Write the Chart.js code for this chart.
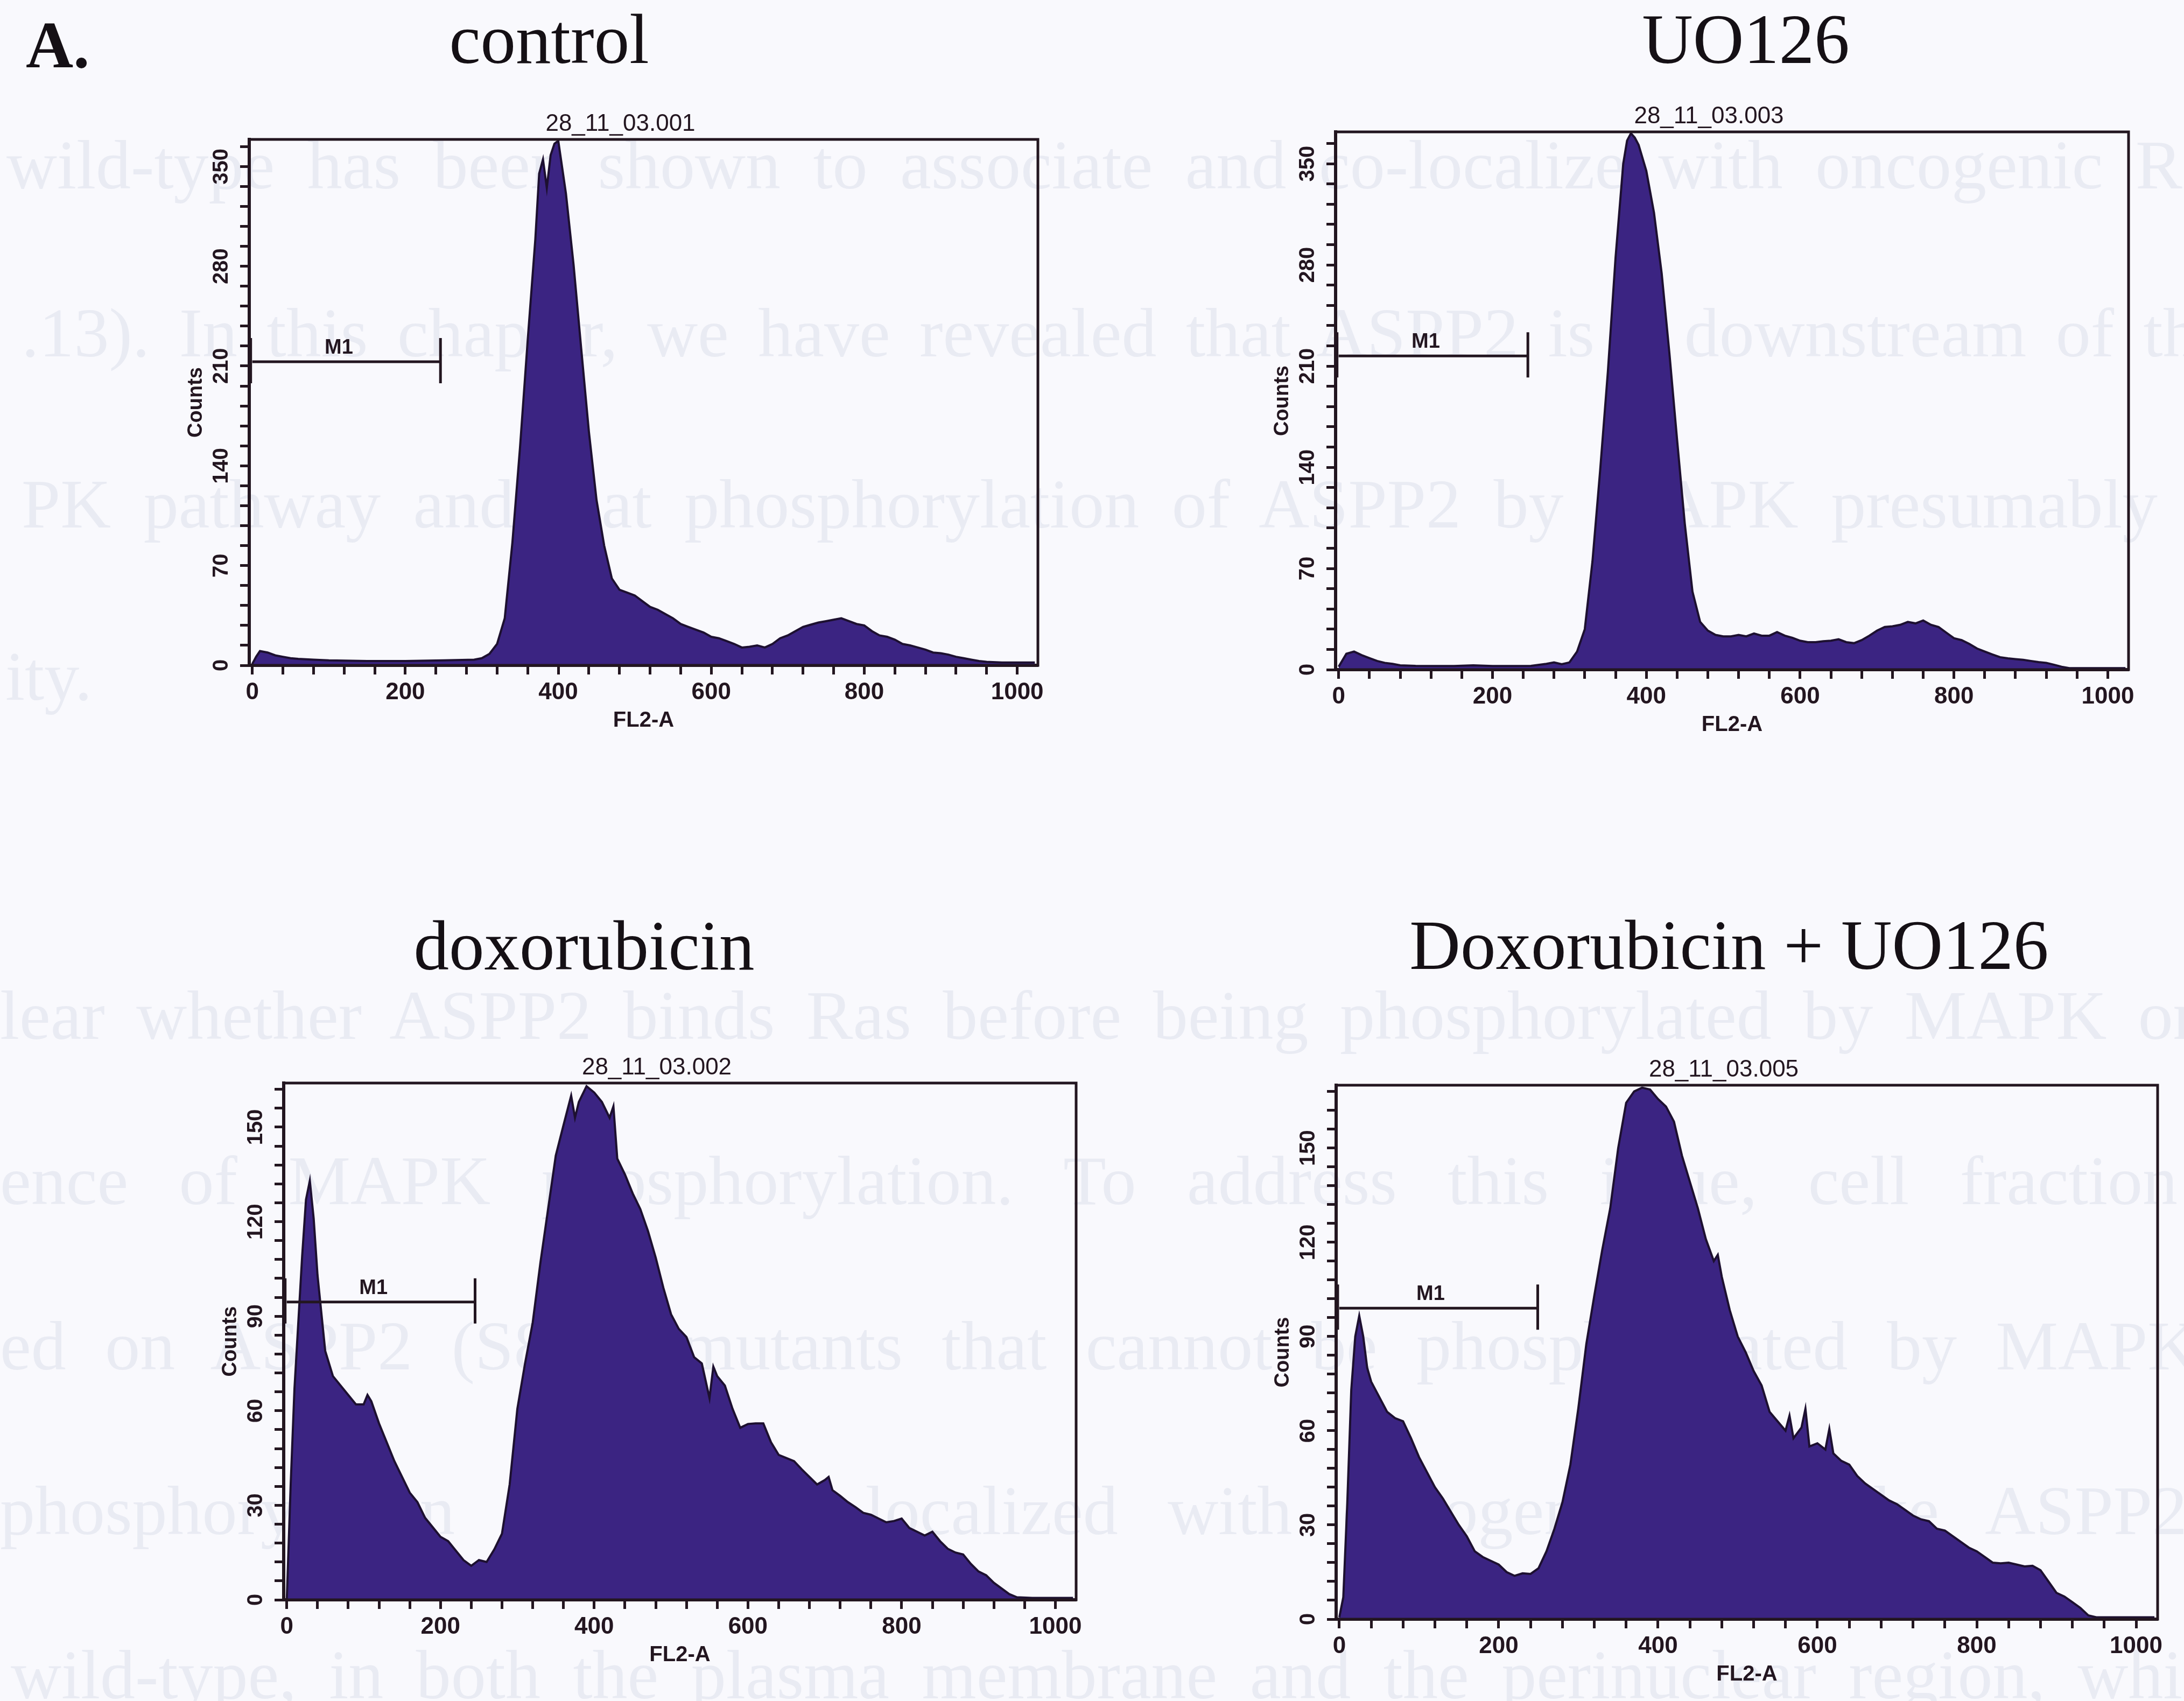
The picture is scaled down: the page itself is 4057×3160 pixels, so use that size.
<!DOCTYPE html>
<html>
<head>
<meta charset="utf-8">
<title>FACS profiles</title>
<script src="https://cdn.jsdelivr.net/npm/chart.js@4.4.1/dist/chart.umd.min.js"></script>
<style>
  html, body { margin: 0; padding: 0; }
  body { width: 4057px; height: 3160px; position: relative; overflow: hidden; background: #f9f9fd; }
  .bleed { position: absolute; white-space: nowrap; font-family: "Liberation Serif", "Times New Roman", serif;
           font-size: 130px; line-height: 130px; color: #e9ebf3; }
  .head { position: absolute; width: 1600px; text-align: center; font-family: "Liberation Serif", "Times New Roman", serif;
          font-size: 131px; line-height: 131px; color: #151015; white-space: nowrap; }
  canvas { position: absolute; }
</style>
</head>
<body>
<script>
// FL2-A channel and counts
const controlFL2 = [0, 5, 10, 20, 30, 40, 50, 60, 80, 100, 150, 200, 250, 290, 300, 310, 320, 330, 340, 350, 360, 370, 375, 380, 385, 390, 395, 400, 410, 420, 430, 440, 450, 460, 470, 480, 490, 500, 510, 520, 530, 540, 550, 560, 570, 580, 590, 600, 610, 620, 630, 640, 650, 660, 670, 680, 690, 700, 710, 720, 730, 740, 750, 760, 770, 780, 790, 800, 810, 820, 830, 840, 850, 860, 870, 880, 890, 900, 910, 920, 930, 940, 950, 960, 980, 1000, 1023]
const controlCounts = [1, 6, 10, 9, 7, 6, 5, 4.5, 4, 3.5, 3, 3, 3.5, 4, 5, 8, 15, 33, 86, 153, 228, 299, 345, 355, 335, 358, 366, 368, 331, 281, 222, 164, 116, 84, 61, 53, 51, 49, 45, 41, 39, 36, 33, 29, 27, 25, 23, 20, 19, 17, 15, 12.5, 13, 14, 12.5, 15, 19, 21, 24, 27, 28.5, 30, 31, 32, 33, 31, 29, 28, 24, 21, 20, 18, 15, 14, 12.5, 11, 9, 8.5, 7.5, 6, 5, 4, 3, 2.5, 2, 2, 2]

const uoFL2 = [0, 10, 20, 30, 40, 50, 60, 70, 80, 100, 150, 175, 200, 250, 270, 280, 290, 300, 310, 320, 330, 340, 350, 360, 370, 375, 380, 385, 390, 400, 410, 420, 430, 440, 450, 460, 470, 480, 490, 500, 510, 520, 530, 540, 550, 560, 570, 580, 590, 600, 610, 620, 630, 640, 650, 660, 670, 680, 690, 700, 710, 720, 730, 740, 750, 760, 770, 780, 790, 800, 810, 820, 830, 840, 850, 860, 870, 880, 890, 900, 910, 920, 930, 940, 950, 970, 1000, 1023]
const uoCounts = [2, 11, 12.5, 10, 8, 6, 4.7, 4, 3, 2.6, 2.5, 3, 2.5, 2.6, 4, 5, 3.7, 5, 12.5, 28, 75, 138, 206, 285, 350, 366, 371, 368, 363, 345, 316, 274, 219, 159, 101, 54, 33, 27, 24, 23, 23, 24, 23, 25, 23.5, 23.5, 26, 23.5, 22, 20, 19, 19, 19.6, 20, 21, 19, 18.3, 20.4, 23.5, 27, 29.5, 30, 31, 33, 32, 34, 31, 29.5, 25.6, 21.7, 20.4, 17.8, 14.6, 12.5, 10.5, 8.6, 7.8, 7.3, 6.8, 6, 5.2, 4.7, 3.4, 2, 1, 1, 1, 1]

const doxFL2 = [0, 5, 10, 20, 25, 30, 35, 40, 50, 60, 70, 80, 90, 100, 105, 110, 120, 130, 140, 150, 160, 170, 180, 190, 200, 210, 220, 230, 240, 250, 260, 270, 280, 290, 300, 310, 320, 330, 340, 350, 360, 370, 375, 380, 390, 400, 410, 420, 425, 430, 440, 450, 460, 470, 480, 490, 500, 510, 520, 530, 540, 550, 555, 560, 570, 580, 590, 600, 610, 620, 630, 640, 650, 660, 670, 680, 690, 700, 705, 710, 720, 730, 740, 750, 760, 770, 780, 790, 800, 810, 820, 830, 840, 850, 860, 870, 880, 890, 900, 910, 920, 930, 940, 950, 970, 1000, 1023]
const doxCounts = [0, 36, 67, 109, 127, 133, 121, 103, 79, 71, 68, 65, 62, 62, 65, 63, 56, 50, 44, 39, 34, 31, 26, 23, 20, 18.6, 15.6, 12.6, 10.8, 12.6, 12, 16, 21, 36.6, 60.6, 75, 88, 107, 124, 141, 150.6, 160, 153, 158, 163, 161, 158, 153, 156.6, 140, 135, 129, 124, 117, 108.6, 99, 90.6, 86, 83.4, 77, 75, 64, 74, 71, 68, 60.6, 54.6, 55.8, 56, 56, 50, 46, 45, 44, 41.4, 39, 36.6, 38, 39, 34.8, 33, 31, 29.4, 27.6, 27, 25.8, 24.6, 25, 25.8, 22.8, 21.6, 20.4, 21.6, 18.6, 16.2, 15, 14.4, 11.4, 9, 7.8, 5.4, 3.6, 1.8, 0.8, 0.6, 0.6, 0.6]

const doxUoFL2 = [0, 5, 10, 15, 20, 25, 30, 35, 40, 50, 60, 70, 80, 90, 100, 110, 120, 130, 140, 150, 160, 170, 180, 190, 200, 210, 220, 230, 240, 250, 260, 270, 280, 290, 300, 310, 320, 330, 340, 350, 360, 370, 380, 390, 400, 410, 420, 430, 440, 450, 460, 470, 475, 480, 490, 500, 510, 520, 530, 540, 550, 560, 565, 570, 580, 585, 590, 600, 610, 615, 620, 630, 640, 650, 660, 670, 680, 690, 700, 710, 720, 730, 740, 750, 760, 770, 780, 790, 800, 810, 820, 830, 840, 850, 860, 870, 880, 890, 900, 910, 920, 930, 940, 950, 970, 1000, 1023]
const doxUoCounts = [0.6, 7, 37, 73, 90, 96.6, 90, 80, 75.6, 70.8, 66, 64, 63, 57.6, 51.6, 46.8, 42, 38.4, 34.2, 30, 26.4, 21.6, 19.8, 18.6, 17.4, 15, 13.8, 14.6, 14.4, 16.2, 21.6, 28.8, 37.2, 49.2, 67.2, 87.6, 103, 117.6, 130.8, 150, 164.4, 168, 169.2, 168.6, 165.6, 163.2, 158.4, 147.6, 139.2, 130.8, 121, 114, 116, 109, 98.4, 90, 85, 79, 74.4, 66, 63, 60, 64.8, 57.6, 61, 67, 55, 56, 54, 60.6, 52.8, 50.4, 49.2, 45.6, 43.2, 41.4, 39.6, 37.8, 36.6, 34.8, 33, 31.8, 31.2, 28.8, 28.2, 26.4, 24.6, 22.8, 21.6, 19.8, 18, 17.8, 18, 17.4, 16.8, 17, 15.6, 12, 8.4, 7.2, 5.4, 3.6, 1.2, 0.6, 0.6, 0.6, 0.6]

const panelTitles = ['control', 'UO126', 'doxorubicin', 'Doxorubicin + UO126']
const fileNames = ['28_11_03.001', '28_11_03.003', '28_11_03.002', '28_11_03.005']
const m1Levels = [213, 217, 94.5, 99]
const m1Ends = [246, 246, 245, 249]
const yMax = [369, 372, 164, 170]
const yMajor = [70, 70, 30, 30]
const xRange = [-4, 1027]

const FILL = '#3b2482'
const EDGE = '#1d1030'
const INK = '#231620'
const SANS = '"Liberation Sans", Arial, sans-serif'

// plot boxes on the page
const boxes = [
    {left: 463, top: 259, right: 1928, bottom: 1236},
    {left: 2481, top: 245, right: 3954, bottom: 1244},
    {left: 527, top: 2012, right: 1999, bottom: 2972},
    {left: 2482, top: 2016, right: 4008, bottom: 3008}
]
const titlePos = [[1020, 117], [3243, 117], [1085, 1801], [3212, 1800]]
const Y_AXIS_W = 160, X_AXIS_H = 140, PAD_TOP = 70, PAD_RIGHT = 45

// faint text showing through from the other side of the page: text, left, baseline, word spacing
const bleed = [
    ['wild-type has been shown to associate and co-localize with oncogenic R', 12, 350, 28],
    ['.13). In this chapter, we have revealed that ASPP2 is a downstream of the R', 40, 662, 22],
    ['PK pathway and that phosphorylation of ASPP2 by MAPK presumably le', 40, 980, 28],
    ['ity.', 10, 1300, 0],
    ['lear whether ASPP2 binds Ras before being phosphorylated by MAPK or o', 0, 1930, 26],
    ['ence of MAPK phosphorylation. To address this issue, cell fraction', 0, 2237, 62],
    ['ed on ASPP2 (S827) mutants that cannot be phosphorylated by MAPK', 0, 2544, 40],
    ['phosphorylation mutants co-localized with oncogenic Ras like ASPP2', 0, 2850, 60],
    ['wild-type, in both the plasma membrane and the perinuclear region, which', 20, 3155, 28]
]

for (const [text, left, base, ws] of bleed) {
    const d = document.createElement('div')
    d.className = 'bleed'
    d.textContent = text
    d.style.left = left + 'px'
    d.style.top = (base - 109) + 'px'
    d.style.wordSpacing = ws + 'px'
    document.body.appendChild(d)
}

const tag = document.createElement('div')
tag.className = 'head'
tag.textContent = 'A.'
tag.style.fontWeight = 'bold'
tag.style.fontSize = '122px'
tag.style.textAlign = 'left'
tag.style.left = '48px'
tag.style.top = (120 - 102) + 'px'
document.body.appendChild(tag)

for (let i = 0; i < panelTitles.length; i++) {
    const d = document.createElement('div')
    d.className = 'head'
    d.textContent = panelTitles[i]
    d.style.left = (titlePos[i][0] - 800) + 'px'
    d.style.top = (titlePos[i][1] - 110) + 'px'
    document.body.appendChild(d)
}

const frame = {
    id: 'frame',
    afterDatasetsDraw(chart) {
        const {ctx, chartArea: a} = chart
        ctx.save()
        ctx.strokeStyle = INK
        ctx.lineWidth = 5
        ctx.strokeRect(a.left, a.top, a.right - a.left, a.bottom - a.top)
        ctx.restore()
    }
}

const marker = {
    id: 'marker',
    afterDatasetsDraw(chart, args, opts) {
        const {ctx, scales: {x, y}} = chart
        const py = y.getPixelForValue(opts.level)
        const x0 = x.getPixelForValue(0)
        const x1 = x.getPixelForValue(opts.end)
        ctx.save()
        ctx.strokeStyle = INK
        ctx.lineWidth = 5
        ctx.beginPath()
        ctx.moveTo(x0, py)
        ctx.lineTo(x1, py)
        ctx.moveTo(x1, py - 44)
        ctx.lineTo(x1, py + 40)
        ctx.moveTo(x0 - 3, py - 44)
        ctx.lineTo(x0 - 3, py + 40)
        ctx.stroke()
        ctx.fillStyle = INK
        ctx.font = 'bold 38px ' + SANS
        ctx.textAlign = 'center'
        ctx.fillText('M1', x0 + (x1 - x0) * 0.46, py - 15)
        ctx.restore()
    }
}

const fileTag = {
    id: 'fileTag',
    afterDraw(chart, args, opts) {
        const {ctx, chartArea: a} = chart
        ctx.save()
        ctx.fillStyle = INK
        ctx.font = '44px ' + SANS
        ctx.textAlign = 'center'
        ctx.fillText(opts.text, (a.left + a.right) / 2 - 43, a.top - 16)
        ctx.restore()
    }
}

function drawPanel(i, fl2, counts) {
    const b = boxes[i]
    const w = Y_AXIS_W + (b.right - b.left) + PAD_RIGHT
    const h = PAD_TOP + (b.bottom - b.top) + X_AXIS_H
    const canvas = document.createElement('canvas')
    canvas.width = w
    canvas.height = h
    canvas.style.left = (b.left - Y_AXIS_W) + 'px'
    canvas.style.top = (b.top - PAD_TOP) + 'px'
    canvas.style.width = w + 'px'
    canvas.style.height = h + 'px'
    document.body.appendChild(canvas)

    const major = yMajor[i]
    return new Chart(canvas, {
        type: 'line',
        data: {
            datasets: [{
                data: fl2.map((v, k) => ({x: v, y: counts[k]})),
                fill: 'origin',
                backgroundColor: FILL,
                borderColor: EDGE,
                borderWidth: 4,
                pointRadius: 0,
                tension: 0
            }]
        },
        options: {
            responsive: false,
            animation: false,
            devicePixelRatio: 1,
            layout: {padding: {top: PAD_TOP, right: PAD_RIGHT, left: 0, bottom: 0}},
            plugins: {
                legend: {display: false},
                tooltip: {enabled: false},
                marker: {level: m1Levels[i], end: m1Ends[i]},
                fileTag: {text: fileNames[i]}
            },
            scales: {
                x: {
                    type: 'linear',
                    min: xRange[0],
                    max: xRange[1],
                    afterFit(s) { s.height = X_AXIS_H },
                    border: {display: true, color: INK, width: 6},
                    grid: {drawOnChartArea: false, drawTicks: true, tickLength: 17, tickWidth: 5, tickColor: INK},
                    ticks: {
                        stepSize: 40, includeBounds: false, autoSkip: false, maxRotation: 0, padding: 7,
                        color: INK, font: {family: SANS, size: 44, weight: 'bold'},
                        callback: v => v % 200 === 0 ? String(v) : ''
                    },
                    title: {display: true, text: 'FL2-A', color: INK,
                            font: {family: SANS, size: 40, weight: 'bold'}, padding: {top: 0, bottom: 13}}
                },
                y: {
                    min: 0,
                    max: yMax[i],
                    afterFit(s) { s.width = Y_AXIS_W },
                    border: {display: true, color: INK, width: 6},
                    grid: {drawOnChartArea: false, drawTicks: true, tickLength: 17, tickWidth: 5, tickColor: INK},
                    ticks: {
                        stepSize: major / 5, includeBounds: false, autoSkip: false,
                        minRotation: 90, maxRotation: 90, crossAlign: 'center', padding: 1,
                        color: INK, font: {family: SANS, size: 40, weight: 'bold'},
                        callback: v => v % major === 0 ? String(v) : ''
                    },
                    title: {display: true, text: 'Counts', color: INK,
                            font: {family: SANS, size: 38, weight: 'bold'}, padding: {top: 39, bottom: 0}}
                }
            }
        },
        plugins: [frame, marker, fileTag]
    })
}

drawPanel(0, controlFL2, controlCounts)
drawPanel(1, uoFL2, uoCounts)
drawPanel(2, doxFL2, doxCounts)
drawPanel(3, doxUoFL2, doxUoCounts)
</script>
</body>
</html>
